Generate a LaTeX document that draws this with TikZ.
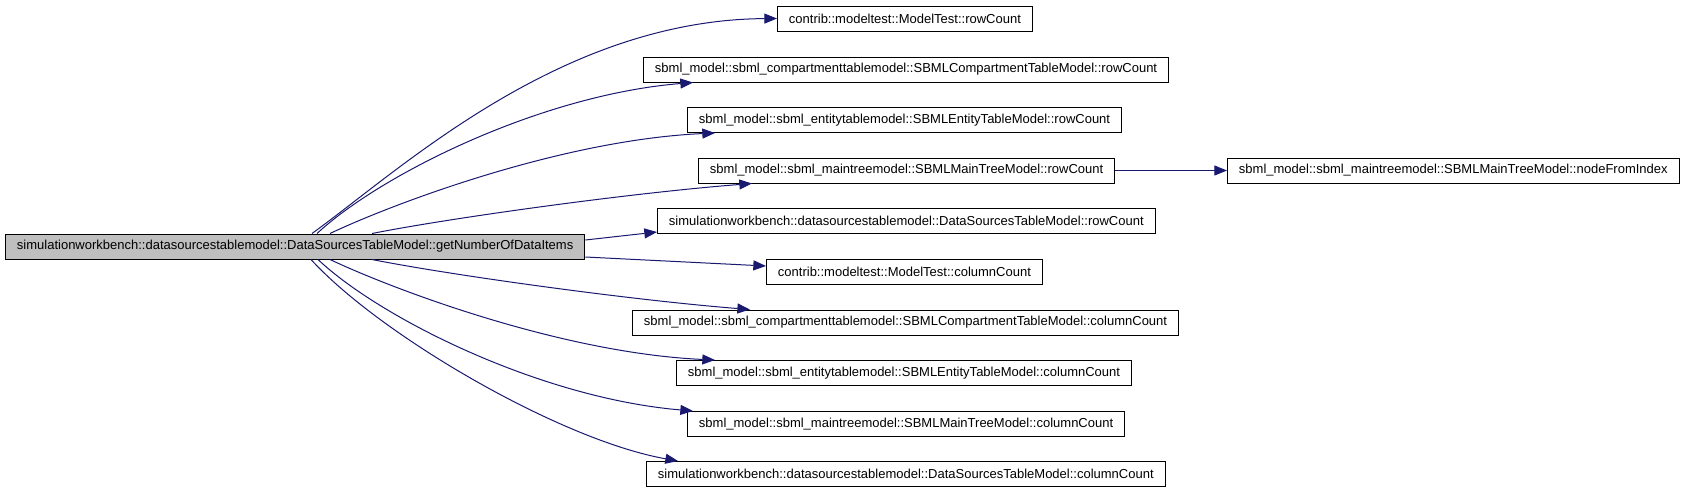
\documentclass[tikz,border=0pt]{standalone}
\usepackage{fontspec}
\setmainfont{Liberation Sans}
\usetikzlibrary{arrows.meta,calc}
\definecolor{edgeblue}{HTML}{191970}
\definecolor{hilite}{HTML}{BFBFBF}
\tikzset{
  fn/.style={draw=black,line width=0.75pt,fill=white,anchor=west,
    font=\fontsize{9.75}{11}\selectfont,inner xsep=8.6pt,inner ysep=0pt,
    minimum height=18.75pt},
  fnmain/.style={fn,fill=hilite},
  call/.style={edgeblue,line width=0.75pt,-{Triangle[length=9.5pt,width=7.5pt]}}
}

\begin{document}
\begin{tikzpicture}[x=0.75pt,y=-0.75pt]
  \fill[white] (0,0) rectangle (1683,493);
  \useasboundingbox (0,0) rectangle (1683,493);

  % caller
  \node[fnmain] (getnum) at (5,246.5) {simulationworkbench::datasourcestablemodel::DataSourcesTableModel::getNumberOfDataItems};

  % callees
  \node[fn] (mtrow) at (777,18.5) {contrib::modeltest::ModelTest::rowCount};
  \node[fn] (cptrow) at (643,69.5) {sbml\_model::sbml\_compartmenttablemodel::SBMLCompartmentTableModel::rowCount};
  \node[fn] (entrow) at (687,120) {sbml\_model::sbml\_entitytablemodel::SBMLEntityTableModel::rowCount};
  \node[fn] (mainrow) at (698,170.5) {sbml\_model::sbml\_maintreemodel::SBMLMainTreeModel::rowCount};
  \node[fn] (dsrow) at (657,221) {simulationworkbench::datasourcestablemodel::DataSourcesTableModel::rowCount};
  \node[fn] (mtcol) at (766,272) {contrib::modeltest::ModelTest::columnCount};
  \node[fn] (cptcol) at (632,322.5) {sbml\_model::sbml\_compartmenttablemodel::SBMLCompartmentTableModel::columnCount};
  \node[fn] (entcol) at (676,373) {sbml\_model::sbml\_entitytablemodel::SBMLEntityTableModel::columnCount};
  \node[fn] (maincol) at (687,424) {sbml\_model::sbml\_maintreemodel::SBMLMainTreeModel::columnCount};
  \node[fn] (dscol) at (646,474) {simulationworkbench::datasourcestablemodel::DataSourcesTableModel::columnCount};
  \node[fn] (nodeidx) at (1227,170.5) {sbml\_model::sbml\_maintreemodel::SBMLMainTreeModel::nodeFromIndex};

  % calls going up
  \draw[call] ($(getnum.north west)+(307,0)$) .. controls (400,170) and (560,20) .. (mtrow.west);
  \draw[call] ($(getnum.north west)+(312,0)$) .. controls (380,175) and (540,95) .. ($(cptrow.south west)+(50,0)$);
  \draw[call] ($(getnum.north west)+(325,0)$) .. controls (390,205) and (560,140) .. ($(entrow.south west)+(28,0)$);
  \draw[call] ($(getnum.north west)+(367,0)$) .. controls (450,218) and (630,193) .. ($(mainrow.south west)+(54,0)$);
  \draw[call] ($(getnum.east)+(0,-6.5)$) -- ($(dsrow.west)+(0,11)$);

  % calls going down
  \draw[call] ($(getnum.east)+(0,10.5)$) -- ($(mtcol.west)+(0,-6)$);
  \draw[call] ($(getnum.south west)+(367,0)$) .. controls (450,275) and (630,300) .. ($(cptcol.north west)+(118,0)$);
  \draw[call] ($(getnum.south west)+(325,0)$) .. controls (390,288) and (560,353) .. ($(entcol.north west)+(39,0)$);
  \draw[call] ($(getnum.south west)+(313,0)$) .. controls (380,318) and (540,398) .. ($(maincol.north west)+(6,0)$);
  \draw[call] ($(getnum.south west)+(306,0)$) .. controls (380,335) and (560,440) .. ($(dscol.north west)+(32,0)$);

  \draw[call] (mainrow.east) -- (nodeidx.west);
\end{tikzpicture}
\end{document}
